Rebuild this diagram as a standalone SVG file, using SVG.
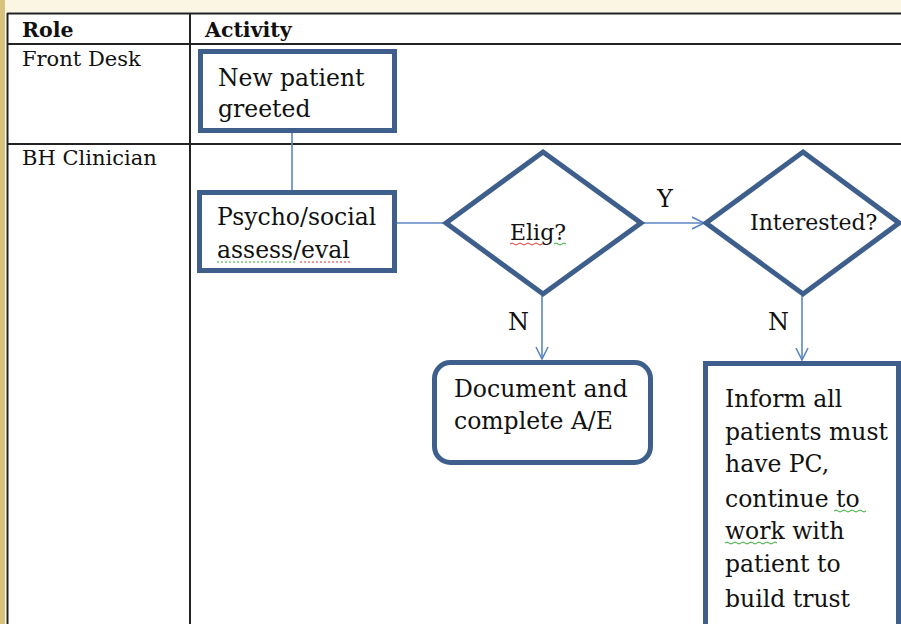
<svg xmlns="http://www.w3.org/2000/svg" width="901" height="624" viewBox="0 0 901 624">
<defs>
<style>
.t{font-family:"DejaVu Serif","Liberation Serif",serif;fill:#111;}
.h{font-weight:bold;font-size:20.5px;}
.role{font-size:21px;}
.lbl{font-size:23.5px;}
.yn{font-size:24px;}
.box{fill:#fff;stroke:#3e5f8b;stroke-width:5;}
.grid{stroke:#222;stroke-width:2;fill:none;}
.con{stroke:#5b86c4;stroke-width:1.6;fill:none;}
.sqr{stroke:#d33;stroke-width:1;fill:none;}
.sqg{stroke:#3a3;stroke-width:1;fill:none;}
</style>
<marker id="arr" markerWidth="14" markerHeight="14" viewBox="0 0 14 14" refX="13" refY="7" orient="auto" markerUnits="userSpaceOnUse">
<path d="M1,1 L13,7 L1,13" fill="none" stroke="#5b86c4" stroke-width="1.6"/>
</marker>
</defs>
<rect x="0" y="0" width="901" height="624" fill="#fff"/>
<rect x="0" y="0" width="901" height="12" fill="#fbf5e3"/>
<rect x="0" y="0" width="5" height="624" fill="#d8c27c"/>
<g id="table">
<line class="grid" x1="7" y1="13.5" x2="901" y2="13.5"/>
<line class="grid" x1="7" y1="44" x2="901" y2="44"/>
<line class="grid" x1="7" y1="144" x2="901" y2="144"/>
<line class="grid" x1="7.5" y1="13" x2="7.5" y2="624"/>
<line class="grid" x1="190" y1="13" x2="190" y2="624"/>
<text class="t h" x="22" y="37">Role</text>
<text class="t h" x="205" y="37">Activity</text>
<text class="t role" x="22" y="66">Front Desk</text>
<text class="t role" x="22" y="165">BH Clinician</text>
</g>
<g id="connectors">
<line class="con" x1="292" y1="133" x2="292" y2="190"/>
<line class="con" x1="397" y1="223" x2="445" y2="223"/>
<line class="con" x1="643" y1="223" x2="704" y2="223" marker-end="url(#arr)"/>
<line class="con" x1="542" y1="296" x2="542" y2="359" marker-end="url(#arr)"/>
<line class="con" x1="802" y1="296" x2="802" y2="360" marker-end="url(#arr)"/>
<text class="t yn" x="657" y="207">Y</text>
<text class="t yn" x="508" y="330">N</text>
<text class="t yn" x="768" y="330">N</text>
</g>
<g id="new-patient">
<rect class="box" x="200.5" y="51.5" width="194" height="79"/>
<text class="t lbl" x="218" y="86">New patient</text>
<text class="t lbl" x="218" y="117">greeted</text>
</g>
<g id="psycho">
<rect class="box" x="199.5" y="192.5" width="195" height="78"/>
<text class="t lbl" x="217" y="225">Psycho/social</text>
<text class="t lbl" x="217" y="258">assess/eval</text>
<path class="sqg" d="M217,262 h80" stroke-dasharray="2,2"/>
<path class="sqr" d="M300,262 h50" stroke-dasharray="2,2"/>
</g>
<g id="elig">
<polygon class="box" points="543,152 641,223 543,294 446,223"/>
<text class="t" x="510" y="240" font-size="22">Elig?</text>
<path class="sqr" d="M510,244 q2,-2 4,0 t4,0 t4,0 t4,0 t4,0 t4,0 t4,0 t4,0"/>
<path class="sqg" d="M554,244 q2,-2 4,0 t4,0 t4,0"/>
</g>
<g id="interested">
<polygon class="box" points="803,152 899,223 803,294 706,223"/>
<text class="t" x="750" y="230" font-size="22">Interested?</text>
</g>
<g id="document">
<rect class="box" x="434.5" y="362.5" width="216" height="100" rx="16" ry="16"/>
<text class="t lbl" x="454" y="397">Document and</text>
<text class="t lbl" x="454" y="429">complete A/E</text>
</g>
<g id="inform">
<rect class="box" x="705.5" y="363.5" width="193" height="280"/>
<text class="t lbl" x="725" y="407">Inform all</text>
<text class="t lbl" x="725" y="440">patients must</text>
<text class="t lbl" x="725" y="472">have PC,</text>
<text class="t lbl" x="725" y="507">continue to</text>
<text class="t lbl" x="725" y="539">work with</text>
<text class="t lbl" x="725" y="572">patient to</text>
<text class="t lbl" x="725" y="607">build trust</text>
<path class="sqg" d="M834,511 q2,-2 4,0 t4,0 t4,0 t4,0 t4,0 t4,0 t4,0 t4,0"/>
<path class="sqg" d="M725,543 q2,-2 4,0 t4,0 t4,0 t4,0 t4,0 t4,0 t4,0 t4,0 t4,0 t4,0 t4,0 t4,0 t4,0"/>
</g>
</svg>
